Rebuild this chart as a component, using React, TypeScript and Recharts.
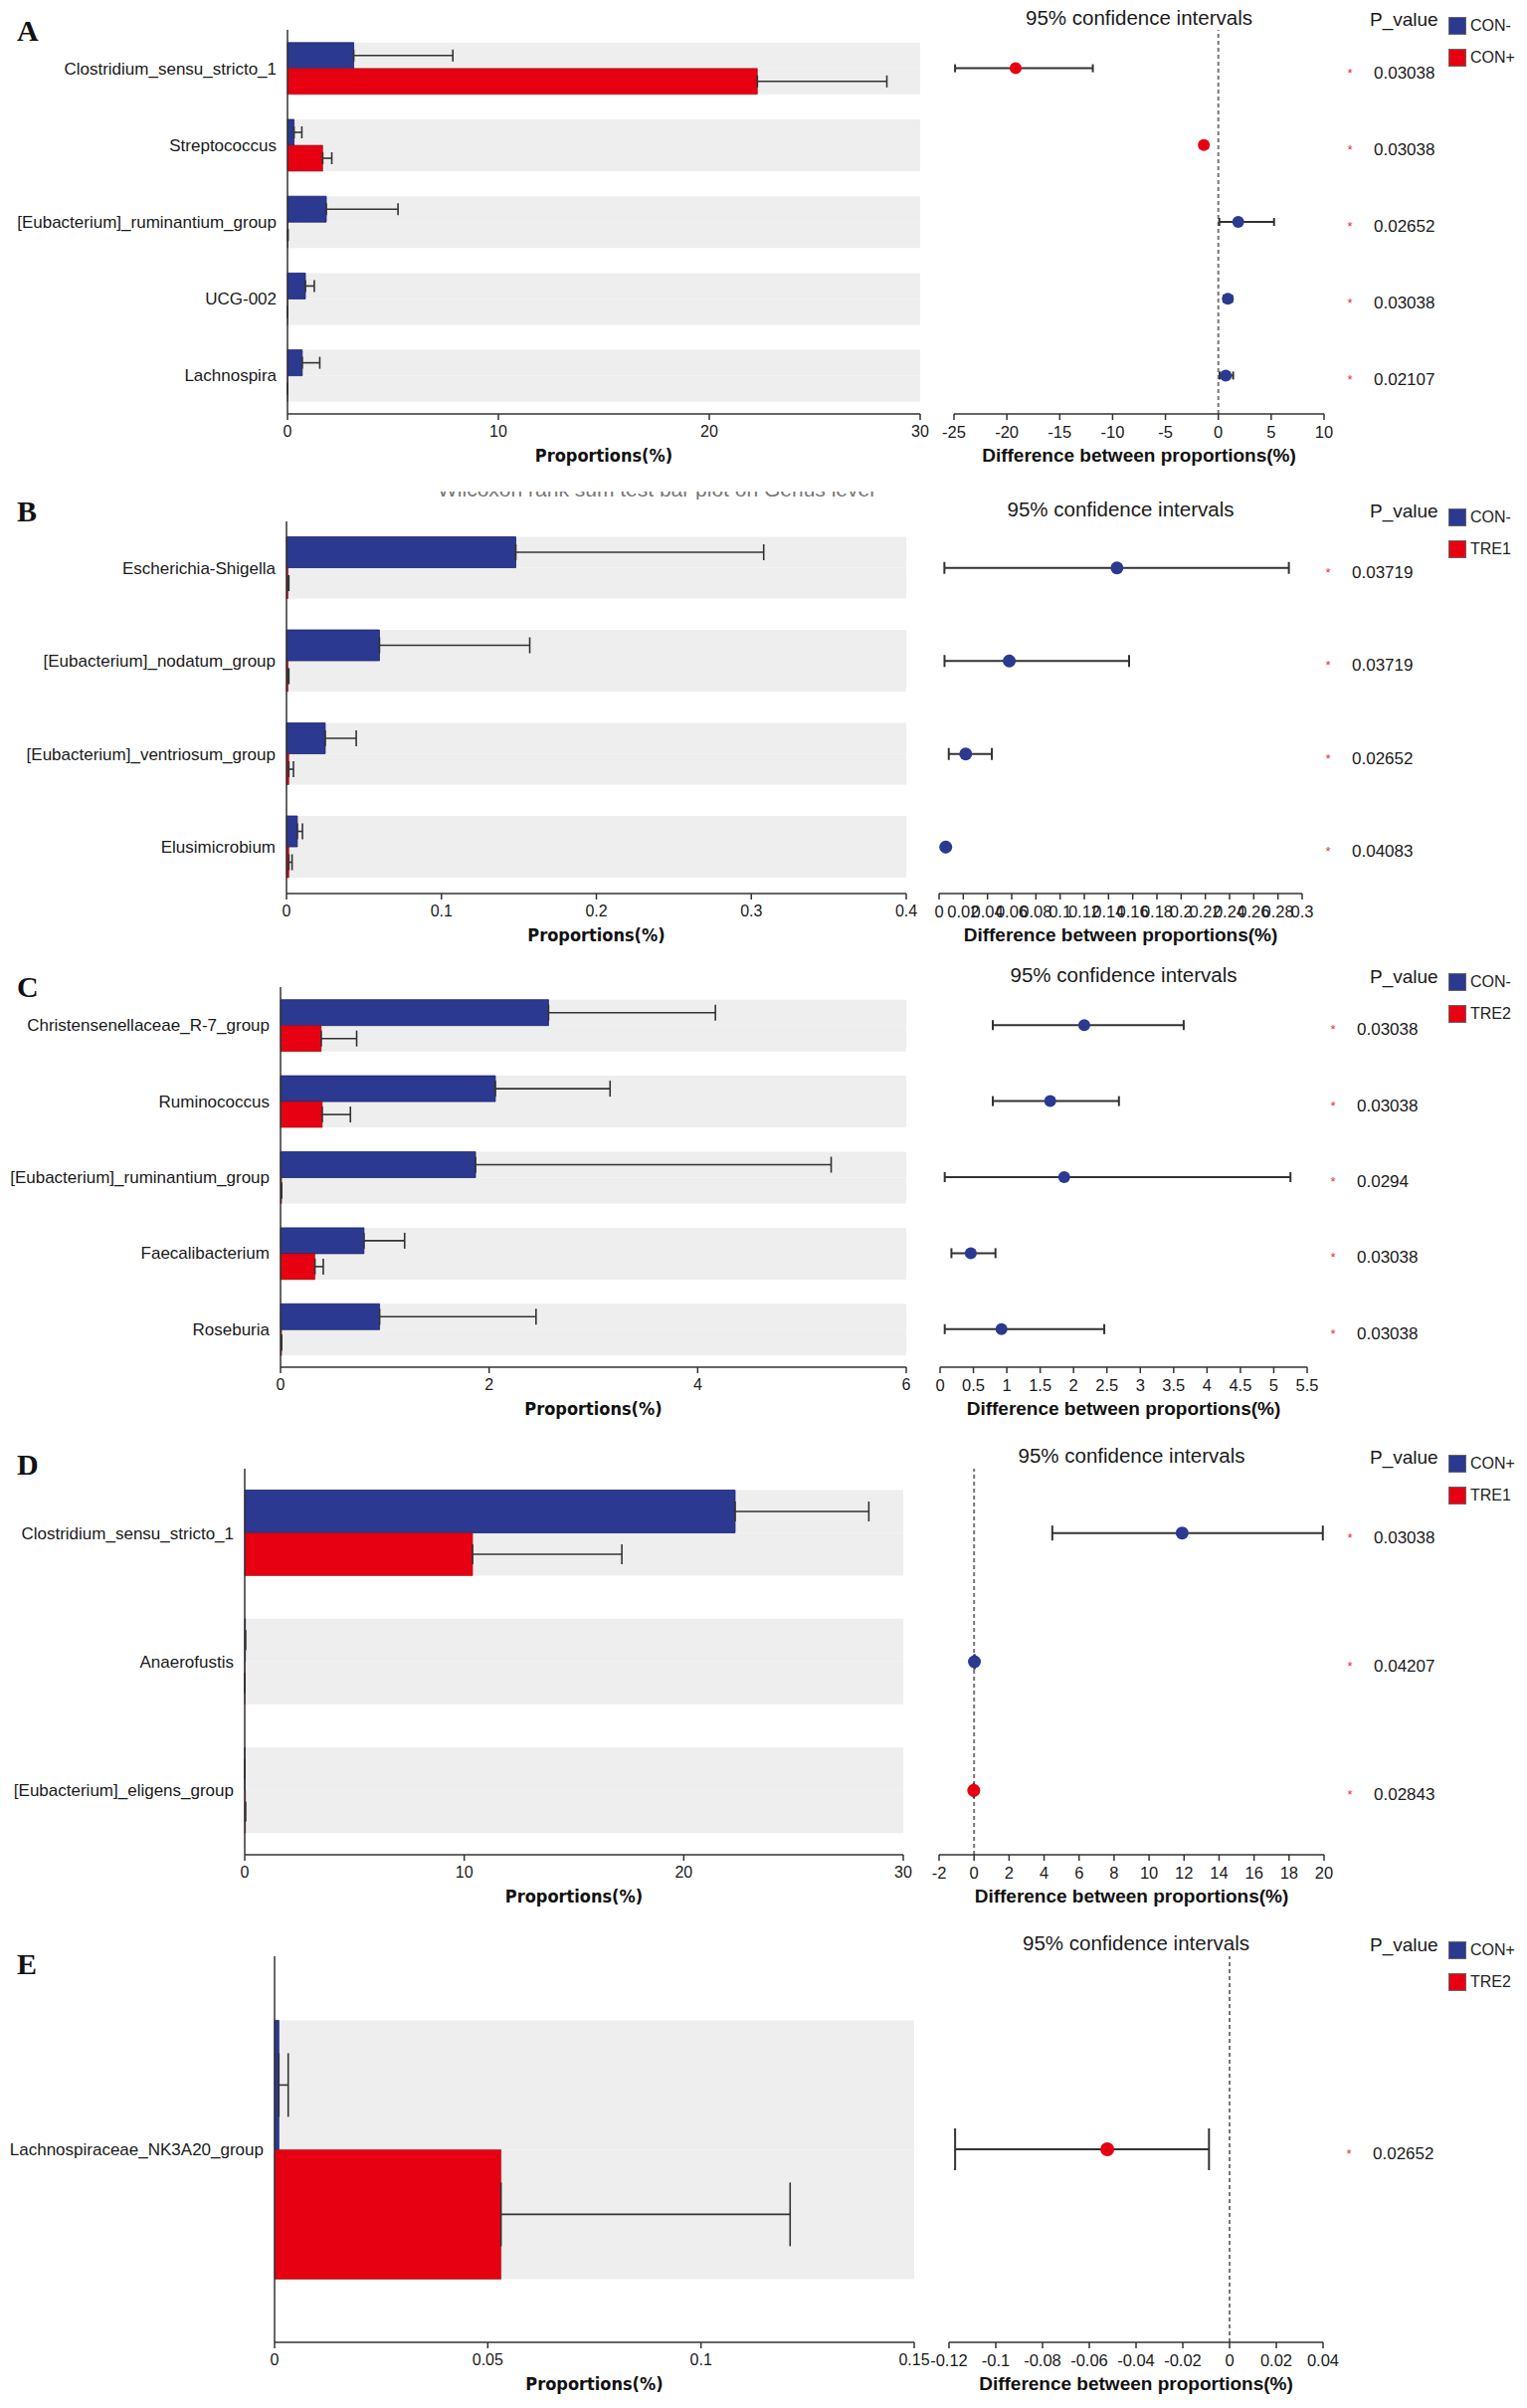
import React from 'react';
import { BarChart, Bar, ComposedChart, Line, XAxis, YAxis, ErrorBar, ReferenceLine, Legend } from 'recharts';

const SANS = "'Liberation Sans', Arial, Helvetica, sans-serif";
const NARROW = "'Liberation Sans Narrow', 'Arial Narrow', 'DejaVu Sans Condensed', 'Liberation Sans', sans-serif";
const SERIF = "'Liberation Serif', 'Times New Roman', serif";
const BLUE = '#2b3990';
const RED = '#e60012';
const BAND = '#eeeeee';
const INK = '#333333';

// ---------- A: CON- vs CON+
const A_TAXA = ['Clostridium_sensu_stricto_1', 'Streptococcus', '[Eubacterium]_ruminantium_group', 'UCG-002', 'Lachnospira'];
const A_GROUPS = ['CON-', 'CON+'];
const A_MEAN1 = [3.14, 0.31, 1.84, 0.85, 0.7];
const A_TOP1 = [7.84, 0.68, 5.24, 1.27, 1.53];
const A_MEAN2 = [22.28, 1.67, 0.02, 0.01, 0.01];
const A_TOP2 = [28.42, 2.1, 0.02, 0.01, 0.01];
const A_DIFF = [-19.17, -1.37, 1.88, 0.9, 0.7];
const A_LOW = [-24.9, -1.7, 0.09, 0.5, 0.12];
const A_HIGH = [-11.87, -1.0, 5.27, 1.3, 1.4];
const A_P = ['0.03038', '0.03038', '0.02652', '0.03038', '0.02107'];
const A_PROP_TICKS = [0, 10, 20, 30];
const A_DIFF_TICKS = [-25, -20, -15, -10, -5, 0, 5, 10];

// ---------- B: CON- vs TRE1
const B_TAXA = ['Escherichia-Shigella', '[Eubacterium]_nodatum_group', '[Eubacterium]_ventriosum_group', 'Elusimicrobium'];
const B_GROUPS = ['CON-', 'TRE1'];
const B_MEAN1 = [0.148, 0.06, 0.025, 0.007];
const B_TOP1 = [0.308, 0.157, 0.045, 0.0103];
const B_MEAN2 = [0.001, 0.001, 0.0015, 0.0015];
const B_TOP2 = [0.0015, 0.0015, 0.0045, 0.0036];
const B_DIFF = [0.147, 0.058, 0.022, 0.0055];
const B_LOW = [0.0044, 0.0045, 0.008, 0.0055];
const B_HIGH = [0.289, 0.157, 0.0436, 0.0055];
const B_P = ['0.03719', '0.03719', '0.02652', '0.04083'];
const B_PROP_TICKS = [0, 0.1, 0.2, 0.3, 0.4];
const B_DIFF_TICKS = [0, 0.02, 0.04, 0.06, 0.08, 0.1, 0.12, 0.14, 0.16, 0.18, 0.2, 0.22, 0.24, 0.26, 0.28, 0.3];

// ---------- C: CON- vs TRE2
const C_TAXA = ['Christensenellaceae_R-7_group', 'Ruminococcus', '[Eubacterium]_ruminantium_group', 'Faecalibacterium', 'Roseburia'];
const C_GROUPS = ['CON-', 'TRE2'];
const C_MEAN1 = [2.57, 2.06, 1.87, 0.8, 0.95];
const C_TOP1 = [4.17, 3.16, 5.28, 1.19, 2.45];
const C_MEAN2 = [0.39, 0.4, 0.01, 0.33, 0.01];
const C_TOP2 = [0.73, 0.67, 0.01, 0.41, 0.01];
const C_DIFF = [2.16, 1.65, 1.86, 0.46, 0.92];
const C_LOW = [0.79, 0.79, 0.07, 0.17, 0.07];
const C_HIGH = [3.65, 2.68, 5.25, 0.83, 2.46];
const C_P = ['0.03038', '0.03038', '0.0294', '0.03038', '0.03038'];
const C_PROP_TICKS = [0, 2, 4, 6];
const C_DIFF_TICKS = [0, 0.5, 1, 1.5, 2, 2.5, 3, 3.5, 4, 4.5, 5, 5.5];

// ---------- D: CON+ vs TRE1
const D_TAXA = ['Clostridium_sensu_stricto_1', 'Anaerofustis', '[Eubacterium]_eligens_group'];
const D_GROUPS = ['CON+', 'TRE1'];
const D_MEAN1 = [22.34, 0.03, 0.005];
const D_TOP1 = [28.43, 0.03, 0.005];
const D_MEAN2 = [10.38, 0.005, 0.03];
const D_TOP2 = [17.18, 0.005, 0.03];
const D_DIFF = [11.89, 0.02, -0.02];
const D_LOW = [4.47, 0.02, -0.02];
const D_HIGH = [19.93, 0.02, -0.02];
const D_P = ['0.03038', '0.04207', '0.02843'];
const D_PROP_TICKS = [0, 10, 20, 30];
const D_DIFF_TICKS = [-2, 0, 2, 4, 6, 8, 10, 12, 14, 16, 18, 20];

// ---------- E: CON+ vs TRE2
const E_TAXA = ['Lachnospiraceae_NK3A20_group'];
const E_GROUPS = ['CON+', 'TRE2'];
const E_MEAN1 = [0.001];
const E_TOP1 = [0.0032];
const E_MEAN2 = [0.0531];
const E_TOP2 = [0.1209];
const E_DIFF = [-0.0523];
const E_LOW = [-0.1174];
const E_HIGH = [-0.0088];
const E_P = ['0.02652'];
const E_PROP_TICKS = [0, 0.05, 0.1, 0.15];
const E_DIFF_TICKS = [-0.12, -0.1, -0.08, -0.06, -0.04, -0.02, 0, 0.02, 0.04];

const PANELS = [
  { letter: 'A', taxa: A_TAXA, groups: A_GROUPS, mean1: A_MEAN1, top1: A_TOP1, mean2: A_MEAN2, top2: A_TOP2, diff: A_DIFF, low: A_LOW, high: A_HIGH, p: A_P, propTicks: A_PROP_TICKS, diffTicks: A_DIFF_TICKS },
  { letter: 'B', taxa: B_TAXA, groups: B_GROUPS, mean1: B_MEAN1, top1: B_TOP1, mean2: B_MEAN2, top2: B_TOP2, diff: B_DIFF, low: B_LOW, high: B_HIGH, p: B_P, propTicks: B_PROP_TICKS, diffTicks: B_DIFF_TICKS },
  { letter: 'C', taxa: C_TAXA, groups: C_GROUPS, mean1: C_MEAN1, top1: C_TOP1, mean2: C_MEAN2, top2: C_TOP2, diff: C_DIFF, low: C_LOW, high: C_HIGH, p: C_P, propTicks: C_PROP_TICKS, diffTicks: C_DIFF_TICKS },
  { letter: 'D', taxa: D_TAXA, groups: D_GROUPS, mean1: D_MEAN1, top1: D_TOP1, mean2: D_MEAN2, top2: D_TOP2, diff: D_DIFF, low: D_LOW, high: D_HIGH, p: D_P, propTicks: D_PROP_TICKS, diffTicks: D_DIFF_TICKS },
  { letter: 'E', taxa: E_TAXA, groups: E_GROUPS, mean1: E_MEAN1, top1: E_TOP1, mean2: E_MEAN2, top2: E_TOP2, diff: E_DIFF, low: E_LOW, high: E_HIGH, p: E_P, propTicks: E_PROP_TICKS, diffTicks: E_DIFF_TICKS },
];

// page layout in px, one entry per panel
const LAYOUT = [
  { slotTop: 30, slotBottom: 416, lx0: 289, lx1: 925, rx0: 959, rx1: 1331, titleY: 18, legendY: 17, letterY: 31, cap: 6, ciCap: 4, dotR: 6, zero: true },
  { slotTop: 524, slotBottom: 898, lx0: 288, lx1: 911, rx0: 944, rx1: 1309, titleY: 512, legendY: 511, letterY: 514, cap: 8, ciCap: 6, dotR: 6.5, zero: false },
  { slotTop: 992, slotBottom: 1374, lx0: 282, lx1: 911, rx0: 945, rx1: 1314, titleY: 980, legendY: 978, letterY: 992, cap: 8, ciCap: 5, dotR: 6, zero: false },
  { slotTop: 1476, slotBottom: 1864, lx0: 246, lx1: 908, rx0: 944, rx1: 1331, titleY: 1463, legendY: 1462, letterY: 1472, cap: 10, ciCap: 7.5, dotR: 6.5, zero: true },
  { slotTop: 1966, slotBottom: 2354, lx0: 276, lx1: 919, rx0: 954, rx1: 1330, titleY: 1953, legendY: 1951, letterY: 1974, cap: 32, ciCap: 21, dotR: 7, zero: true },
];

const AXIS_H = 62;
const PCOL_W = 160;

// legend keeps the series order (first group on top)
const renderLegend = (props: any) => {
  const items = [...(props.payload || [])].sort((a: any, b: any) => String(a.dataKey).localeCompare(String(b.dataKey)));
  return (
    <div style={{ fontFamily: SANS, fontSize: 16, color: '#222', whiteSpace: 'nowrap' }}>
      {items.map((e: any, i: number) => (
        <div key={i} style={{ display: 'flex', alignItems: 'center', height: 32 }}>
          <span style={{ display: 'inline-block', width: 18, height: 18, background: e.color, border: '1px solid #666', boxSizing: 'border-box', marginRight: 4 }} />
          {e.value}
        </div>
      ))}
    </div>
  );
};

function PropChart({ d, l }: any) {
  const rows = d.taxa.map((name: string, i: number) => ({
    name,
    g1: d.mean1[i],
    g1Err: [0, d.top1[i] - d.mean1[i]],
    g2: d.mean2[i],
    g2Err: [0, d.top2[i] - d.mean2[i]],
  }));
  const chartTop = l.slotTop - 10;
  const height = l.slotBottom - chartTop + AXIS_H;
  const width = l.lx1 + 20;
  const max = d.propTicks[d.propTicks.length - 1];
  return (
    <div style={{ position: 'absolute', left: 0, top: chartTop }}>
      <BarChart layout="vertical" width={width} height={height} data={rows}
        margin={{ top: 10, right: 20, bottom: 0, left: 0 }} barGap={0} barCategoryGap="16.6%">
        <XAxis type="number" domain={[0, max]} ticks={d.propTicks} height={AXIS_H}
          axisLine={{ stroke: INK, strokeWidth: 1.5 }} tickLine={{ stroke: INK, strokeWidth: 1.5 }}
          tickSize={6} tickMargin={6}
          tick={{ fill: '#1a1a1a', fontSize: 16, fontFamily: SANS }}
          label={{ value: 'Proportions(%)', position: 'insideBottom', offset: 14, fill: '#111', fontSize: 18, fontWeight: 700, fontFamily: NARROW }} />
        <YAxis type="category" dataKey="name" width={l.lx0} interval={0}
          axisLine={{ stroke: INK, strokeWidth: 1.5 }} tickLine={false} tickSize={0} tickMargin={11}
          tick={{ fill: '#1a1a1a', fontSize: 17, fontFamily: SANS }} />
        <Bar dataKey="g1" name={d.groups[0]} fill={BLUE} stroke="#1d2668" strokeWidth={0.8}
          background={{ fill: BAND }} isAnimationActive={false}>
          <ErrorBar dataKey="g1Err" direction="x" width={l.cap} stroke={INK} strokeWidth={1.6} />
        </Bar>
        <Bar dataKey="g2" name={d.groups[1]} fill={RED} stroke="#8a1a1a" strokeWidth={0.6}
          background={{ fill: BAND }} isAnimationActive={false}>
          <ErrorBar dataKey="g2Err" direction="x" width={l.cap} stroke={INK} strokeWidth={1.6} />
        </Bar>
        <Legend layout="vertical" align="center" verticalAlign="middle"
          content={renderLegend}
          wrapperStyle={{ left: 1456, top: l.legendY - chartTop - 7, width: 80, height: 64 }} />
      </BarChart>
    </div>
  );
}

const PTick = ({ x, y, index, pvals }: any) => (
  <g>
    <text x={x + 26} y={y + 9} fill="#e0353a" fontSize={13} fontFamily={SANS} textAnchor="middle">*</text>
    <text x={x + 50} y={y + 10} fill="#1a1a1a" fontSize={17} fontFamily={SANS}>{pvals[index]}</text>
  </g>
);

const makeDot = (r: number) => (props: any) => {
  const { cx, cy, payload, index } = props;
  if (cx == null || cy == null) return <g key={index} />;
  return <circle key={index} cx={cx} cy={cy} r={r} fill={payload.diff >= 0 ? BLUE : RED} />;
};

function DiffChart({ d, l }: any) {
  const rows = d.taxa.map((name: string, i: number) => ({
    name,
    band: 0,
    diff: d.diff[i],
    ci: [d.diff[i] - d.low[i], d.high[i] - d.diff[i]],
  }));
  const chartTop = l.slotTop - 10;
  const chartLeft = l.rx0 - 30;
  const height = l.slotBottom - chartTop + AXIS_H;
  const width = l.rx1 - chartLeft + PCOL_W;
  const ticks = d.diffTicks;
  return (
    <div style={{ position: 'absolute', left: chartLeft, top: chartTop }}>
      <ComposedChart layout="vertical" width={width} height={height} data={rows}
        margin={{ top: 10, right: 0, bottom: 0, left: 30 }} barCategoryGap="16.6%">
        <XAxis type="number" domain={[ticks[0], ticks[ticks.length - 1]]} ticks={ticks} height={AXIS_H} interval={0}
          axisLine={{ stroke: INK, strokeWidth: 1.5 }} tickLine={{ stroke: INK, strokeWidth: 1.5 }}
          tickSize={6} tickMargin={6}
          tick={{ fill: '#1a1a1a', fontSize: 16.5, fontFamily: SANS }}
          label={{ value: 'Difference between proportions(%)', position: 'insideBottom', offset: 14, fill: '#111', fontSize: 19, fontWeight: 700, fontFamily: SANS }} />
        <YAxis type="category" dataKey="name" orientation="right" width={PCOL_W} interval={0}
          axisLine={false} tickLine={false} tickSize={0} tickMargin={0}
          tick={(p: any) => <PTick {...p} pvals={d.p} />} />
        <Bar dataKey="band" fill="none" background={{ fill: BAND }} isAnimationActive={false} />
        {l.zero && <ReferenceLine x={0} stroke="#777" strokeDasharray="4 3" strokeWidth={2} />}
        <Line dataKey="diff" stroke="none" isAnimationActive={false} activeDot={false} dot={makeDot(l.dotR)}>
          <ErrorBar dataKey="ci" direction="x" width={l.ciCap} stroke={INK} strokeWidth={2} />
        </Line>
      </ComposedChart>
    </div>
  );
}

const abs = (left: number, top: number, extra: any = {}) => ({
  position: 'absolute' as const, left, top, whiteSpace: 'nowrap' as const, lineHeight: 1, ...extra,
});

export default function App() {
  return (
    <div style={{ position: 'absolute', left: 0, top: 0, width: 1535, height: 2420, background: '#fff', overflow: 'hidden' }}>
      {PANELS.map((d, i) => {
        const l = LAYOUT[i];
        return (
          <React.Fragment key={d.letter}>
            <div style={abs(17, l.letterY, { transform: 'translateY(-50%)', fontFamily: SERIF, fontWeight: 700, fontSize: 30, color: '#111' })}>{d.letter}</div>
            <PropChart d={d} l={l} />
            <DiffChart d={d} l={l} />
            <div style={abs((l.rx0 + l.rx1) / 2, l.titleY, { transform: 'translate(-50%, -50%)', fontFamily: SANS, fontSize: 20.5, color: '#1a1a1a' })}>95% confidence intervals</div>
            <div style={abs(1377, l.titleY + 1, { transform: 'translateY(-50%)', fontFamily: SANS, fontSize: 19, color: '#1a1a1a' })}>P_value</div>
          </React.Fragment>
        );
      })}
      <div style={abs(440, 494, { height: 8, width: 500, overflow: 'hidden' })}>
        <div style={{ position: 'absolute', top: -13, left: 0, fontFamily: SANS, fontSize: 21, lineHeight: '21px', color: '#777' }}>Wilcoxon rank sum test bar plot on Genus level</div>
      </div>
    </div>
  );
}
